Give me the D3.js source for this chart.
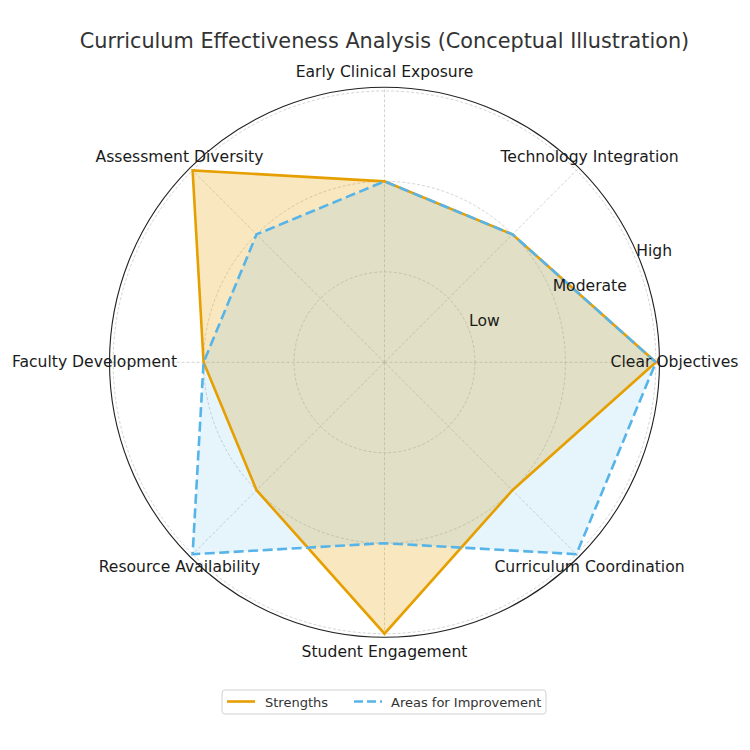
<!DOCTYPE html>
<html>
<head>
<meta charset="utf-8">
<script src="https://cdn.jsdelivr.net/npm/d3@7"></script>
<style>
  body { margin: 0; background: #fff; }
  text { font-family: "DejaVu Sans", sans-serif; }
</style>
</head>
<body>
<svg id="chart" width="750" height="750"></svg>
<script>
"use strict";

const categories = ["Clear Objectives", "Technology Integration", "Early Clinical Exposure",
  "Assessment Diversity", "Faculty Development", "Resource Availability",
  "Student Engagement", "Curriculum Coordination"]
const strengths = [3, 2, 2, 3, 2, 2, 3, 2]
const improvements = [3, 2, 2, 2, 2, 3, 2, 3]
const tickValues = [1, 2, 3]
const tickLabels = ["Low", "Moderate", "High"]
const seriesNames = ["Strengths", "Areas for Improvement"]

const orange = "#E69F00"
const blue = "#56B4E9"

const cx = 384.5, cy = 362.3
const svg = d3.select("#chart")
const g = svg.append("g").attr("transform", "translate(" + cx + "," + cy + ")")

const r = d3.scaleLinear().domain([0, 3.04]).range([0, 275])
const angle = d3.scaleLinear().domain([0, categories.length]).range([0, 2 * Math.PI])

// polar helpers, counterclockwise from east
let px = (a, rad) => rad * Math.cos(a)
let py = (a, rad) => -rad * Math.sin(a)

// grid circles
g.selectAll("circle.grid").data(tickValues).enter()
  .append("circle")
  .attr("class", "grid")
  .attr("r", d => r(d))
  .attr("fill", "none")
  .attr("stroke", "#c8c8c8")
  .attr("stroke-width", 0.8)
  .attr("stroke-dasharray", "3,2")

// spokes
g.selectAll("line.spoke").data(categories).enter()
  .append("line")
  .attr("class", "spoke")
  .attr("x1", 0).attr("y1", 0)
  .attr("x2", (d, i) => px(angle(i), r(3.04)))
  .attr("y2", (d, i) => py(angle(i), r(3.04)))
  .attr("stroke", "#c8c8c8")
  .attr("stroke-width", 0.8)
  .attr("stroke-dasharray", "3,2")

const radial = d3.lineRadial()
  .angle((d, i) => Math.PI / 2 - angle(i))
  .radius(d => r(d))
  .curve(d3.curveLinearClosed)

const series = [
  {name: seriesNames[0], values: strengths, color: orange, fillOpacity: 0.25, dash: null},
  {name: seriesNames[1], values: improvements, color: blue, fillOpacity: 0.15, dash: "10,4.5"}
]

series.forEach(s => {
  g.append("path")
    .attr("d", radial(s.values))
    .attr("fill", s.color)
    .attr("fill-opacity", s.fillOpacity)
    .attr("stroke", "none")
})
series.forEach(s => {
  g.append("path")
    .attr("d", radial(s.values))
    .attr("fill", "none")
    .attr("stroke", s.color)
    .attr("stroke-width", 2.6)
    .attr("stroke-linejoin", "miter")
    .attr("stroke-dasharray", s.dash)
})

// category labels
g.selectAll("text.cat").data(categories).enter()
  .append("text")
  .attr("class", "cat")
  .attr("x", (d, i) => px(angle(i), 290))
  .attr("y", (d, i) => py(angle(i), 290))
  .attr("dy", "0.3em")
  .attr("text-anchor", "middle")
  .attr("font-size", 15.6)
  .attr("fill", "#1a1a1a")
  .text(d => d)

// radial tick labels at 22.5 degrees
const labelAngle = Math.PI / 8
g.selectAll("text.rtick").data(tickValues).enter()
  .append("text")
  .attr("class", "rtick")
  .attr("x", d => px(labelAngle, r(d)) + 1)
  .attr("y", d => py(labelAngle, r(d)) - 2)
  .attr("text-anchor", "start")
  .attr("font-size", 15.6)
  .attr("fill", "#1a1a1a")
  .text((d, i) => tickLabels[i])

// outer spine
g.append("circle")
  .attr("r", r(3.04))
  .attr("fill", "none")
  .attr("stroke", "#222")
  .attr("stroke-width", 1.1)

// title
svg.append("text")
  .attr("x", 384.5).attr("y", 47.5)
  .attr("text-anchor", "middle")
  .attr("font-size", 20.8)
  .attr("fill", "#333")
  .text("Curriculum Effectiveness Analysis (Conceptual Illustration)")

// legend
const legend = svg.append("g").attr("transform", "translate(222,690)")
legend.append("rect")
  .attr("width", 324).attr("height", 24)
  .attr("rx", 3)
  .attr("fill", "#fff")
  .attr("stroke", "#d0d0d0")
const legendX = [5, 132]
const legendTextX = [43, 169]
series.forEach((s, i) => {
  legend.append("line")
    .attr("x1", legendX[i]).attr("x2", legendX[i] + 28)
    .attr("y1", 11.5).attr("y2", 11.5)
    .attr("stroke", s.color)
    .attr("stroke-width", 2.6)
    .attr("stroke-dasharray", s.dash ? "9,4" : null)
  legend.append("text")
    .attr("x", legendTextX[i]).attr("y", 12)
    .attr("dy", "0.35em")
    .attr("font-size", 13)
    .attr("fill", "#333")
    .text(s.name)
})
</script>
</body>
</html>
